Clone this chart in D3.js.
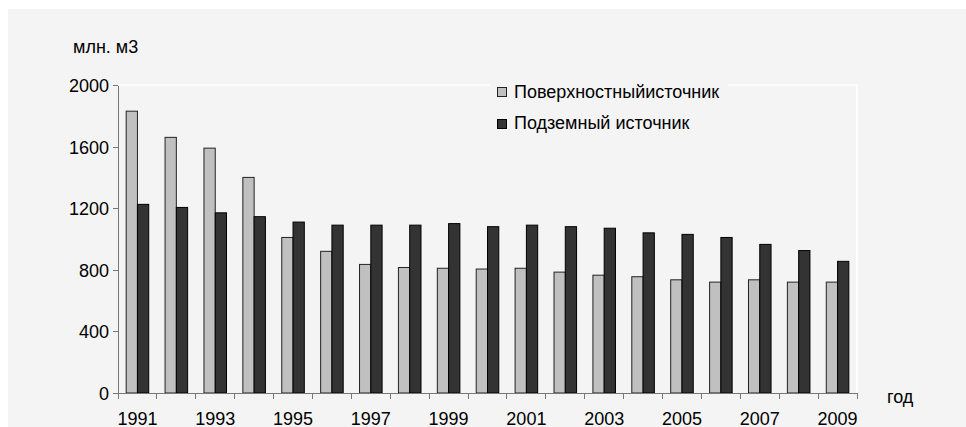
<!DOCTYPE html>
<meta charset="utf-8">
<style>
body { margin: 0; background: #fff; }
svg { display: block; font-family: "Liberation Sans", Arial, sans-serif; }
.bar-surface { fill: #c0c0c0; stroke: #222; stroke-width: 1; }
.bar-ground { fill: #333333; stroke: #000; stroke-width: 1; }
.axis path, .axis line { stroke: #777; shape-rendering: crispEdges; }
.axis text { fill: #000; }
</style>
<body>
<svg class="js-chart"></svg>
<script src="https://cdn.jsdelivr.net/npm/d3@7"></script>
<script>
"use strict";

var years = ["1991","1992","1993","1994","1995","1996","1997","1998","1999","2000",
             "2001","2002","2003","2004","2005","2006","2007","2008","2009"];
var surface = [1830,1660,1590,1400,1010,920,835,815,810,805,810,785,765,755,735,720,735,720,720];
var ground = [1225,1205,1170,1145,1110,1090,1090,1090,1100,1080,1090,1080,1070,1040,1030,1010,965,925,855];
var yTicks = [0, 400, 800, 1200, 1600, 2000];
var seriesNames = ["Поверхностныйисточник", "Подземный источник"];

var W = 966, H = 427,
    plotLeft = 118, plotRight = 857, plotTop = 85, plotBottom = 393,
    fontSize = 18;

var svg = d3.select(".js-chart").attr("width", W).attr("height", H);

// panel background
svg.append("rect").attr("x", 8).attr("y", 9).attr("width", W - 8).attr("height", H - 9)
    .attr("fill", "#f4f4f4");

var x = d3.scaleBand().domain(years).range([plotLeft, plotRight]);
var y = d3.scaleLinear().domain([0, 2000]).range([plotBottom, plotTop]);
var bw = x.bandwidth() * 0.29;

// white plot border (top and right)
svg.append("path")
    .attr("d", "M" + plotLeft + "," + plotTop + "H" + plotRight + "V" + plotBottom)
    .attr("fill", "none").attr("stroke", "#fff").attr("stroke-width", 1.5);

var g = svg.append("g");
g.selectAll(".bar-surface").data(years).enter().append("rect")
    .attr("class", "bar-surface")
    .attr("x", function(d) { return x(d) + x.bandwidth() / 2 - bw; })
    .attr("y", function(d, i) { return y(surface[i]); })
    .attr("width", bw)
    .attr("height", function(d, i) { return y(0) - y(surface[i]); });

g.selectAll(".bar-ground").data(years).enter().append("rect")
    .attr("class", "bar-ground")
    .attr("x", function(d) { return x(d) + x.bandwidth() / 2; })
    .attr("y", function(d, i) { return y(ground[i]); })
    .attr("width", bw)
    .attr("height", function(d, i) { return y(0) - y(ground[i]); });

// y axis
var yAxisG = svg.append("g").attr("class", "axis")
    .attr("transform", "translate(" + plotLeft + ",0)")
    .call(d3.axisLeft(y).tickValues(yTicks).tickFormat(d3.format("d"))
        .tickSize(5).tickSizeOuter(0).tickPadding(4));
yAxisG.attr("font-family", null).attr("font-size", fontSize);
yAxisG.selectAll("text").attr("dy", "0.36em");

// x axis: ticks at category boundaries, labels every other year
var xAxisG = svg.append("g").attr("class", "axis")
    .attr("transform", "translate(0," + plotBottom + ")")
    .attr("font-size", fontSize);
xAxisG.append("line").attr("x1", plotLeft).attr("x2", plotRight).attr("y1", 0).attr("y2", 0);
xAxisG.selectAll(".tk").data(years.concat(["end"])).enter().append("line")
    .attr("class", "tk")
    .attr("x1", function(d, i) { return plotLeft + i * x.step(); })
    .attr("x2", function(d, i) { return plotLeft + i * x.step(); })
    .attr("y1", 0).attr("y2", 6);
xAxisG.selectAll(".lbl").data(years.filter(function(d, i) { return i % 2 === 0; }))
    .enter().append("text")
    .attr("x", function(d) { return x(d) + x.bandwidth() / 2; })
    .attr("y", 31.5)
    .attr("text-anchor", "middle")
    .text(function(d) { return d; });

// axis titles
svg.append("text").attr("x", 73).attr("y", 53).attr("font-size", fontSize).text("млн. м3");
svg.append("text").attr("x", 887).attr("y", 403).attr("font-size", fontSize).text("год");

// legend
var legend = svg.append("g");
legend.append("rect").attr("x", 490).attr("y", 80).attr("width", 238).attr("height", 55)
    .attr("fill", "#f4f4f4");
var cls = ["bar-surface", "bar-ground"];
seriesNames.forEach(function(name, i) {
    legend.append("rect").attr("class", cls[i])
        .attr("x", 497.5).attr("y", 87.5 + i * 32).attr("width", 9).attr("height", 9);
    legend.append("text").attr("x", 514).attr("y", 97.5 + i * 31)
        .attr("font-size", fontSize).text(name);
});
</script>
</body>
